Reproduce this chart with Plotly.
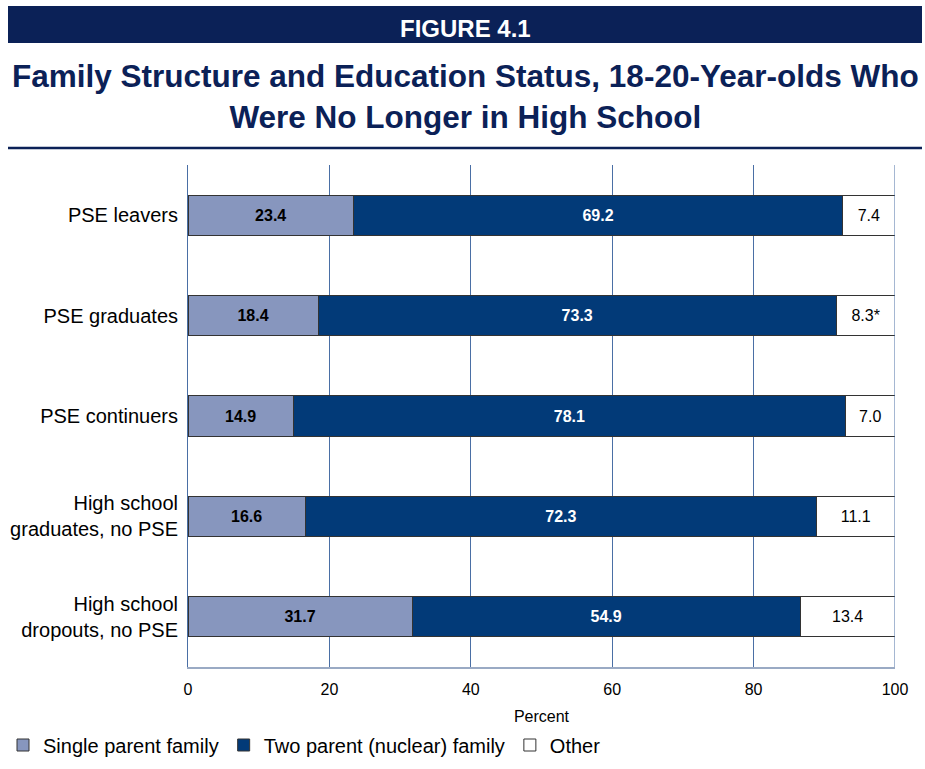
import plotly.graph_objects as go

categories = ["PSE leavers", "PSE graduates", "PSE continuers",
              "High school<br>graduates, no PSE", "High school<br>dropouts, no PSE"]
single_parent = [23.4, 18.4, 14.9, 16.6, 31.7]
two_parent = [69.2, 73.3, 78.1, 72.3, 54.9]
other = [7.4, 8.3, 7.0, 11.1, 13.4]
other_labels = ["7.4", "8.3*", "7.0", "11.1", "13.4"]
x_ticks = [0, 20, 40, 60, 80, 100]

FONT = "Liberation Sans, Arial, sans-serif"
NAVY = "#0b2157"
W, H = 925, 769
L, R, T, B = 188, 30, 165, 102
PW, PH = W - L - R, H - T - B


def px_x(x):
    return (x - L) / PW


def px_y(y):
    return (H - B - y) / PH


fig = go.Figure()
fig.add_trace(go.Bar(
    y=categories, x=single_parent, orientation="h", name="Single parent family",
    marker=dict(color="#8796be", line=dict(color="#333333", width=1)),
    text=[f"<b>{v:.1f}</b>" for v in single_parent], textposition="inside",
    insidetextanchor="middle", textfont=dict(color="black", size=16, family=FONT),
    width=0.4))
fig.add_trace(go.Bar(
    y=categories, x=two_parent, orientation="h", name="Two parent (nuclear) family",
    marker=dict(color="#023a78", line=dict(color="#333333", width=1)),
    text=[f"<b>{v:.1f}</b>" for v in two_parent], textposition="inside",
    insidetextanchor="middle", textfont=dict(color="white", size=16, family=FONT),
    width=0.4))
fig.add_trace(go.Bar(
    y=categories, x=other, orientation="h", name="Other",
    marker=dict(color="white", line=dict(color="#333333", width=1)),
    text=other_labels, textposition="inside",
    insidetextanchor="middle", textfont=dict(color="black", size=16, family=FONT),
    width=0.4))

fig.update_layout(
    barmode="stack",
    width=W, height=H,
    margin=dict(l=L, r=R, t=T, b=B, autoexpand=False),
    paper_bgcolor="white", plot_bgcolor="white",
    font=dict(family=FONT, color="black", size=16),
    showlegend=True,
    legend=dict(orientation="h", x=px_x(3), y=px_y(745), xanchor="left", yanchor="middle",
                font=dict(size=20, family=FONT), traceorder="normal",
                bgcolor="rgba(0,0,0,0)"),
    xaxis=dict(range=[0, 100], tickvals=x_ticks, showgrid=True, gridcolor="#4a6fa5",
               gridwidth=1, zeroline=False, showline=True, linecolor="#9aaac4",
               linewidth=2, ticks="", tickfont=dict(size=16), ticklabelstandoff=7,
               title=dict(text="Percent", font=dict(size=16), standoff=14),
               automargin=False),
    yaxis=dict(autorange="reversed", showgrid=False, showline=True, linecolor="#4a6fa5",
               linewidth=1, ticks="", tickfont=dict(size=20), ticklabelstandoff=5,
               automargin=False),
    shapes=[
        dict(type="rect", xref="paper", yref="paper", x0=px_x(8), x1=px_x(922),
             y0=px_y(43), y1=px_y(6),
             fillcolor=NAVY, line=dict(width=0), layer="below"),
        dict(type="line", xref="paper", yref="paper", x0=px_x(8), x1=px_x(922),
             y0=px_y(148), y1=px_y(148),
             line=dict(color=NAVY, width=2.5)),
        dict(type="line", xref="x", yref="paper", x0=100, x1=100, y0=0, y1=1,
             line=dict(color="#4a6fa5", width=1)),
    ],
    annotations=[
        dict(text="<b>FIGURE 4.1</b>", xref="paper", yref="paper",
             x=px_x(465), y=px_y(28), xanchor="center",
             yanchor="middle", showarrow=False,
             font=dict(color="white", size=24, family=FONT)),
        dict(text="<b>Family Structure and Education Status, 18-20-Year-olds Who<br>Were No Longer in High School</b>",
             xref="paper", yref="paper", x=px_x(465),
             y=px_y(97), xanchor="center", yanchor="middle",
             showarrow=False, align="center",
             font=dict(color=NAVY, size=31.5, family=FONT)),
    ],
)

fig.write_html("out.html", config={"displayModeBar": False},
               post_script="document.body.style.margin='0';document.body.style.overflow='hidden';")
